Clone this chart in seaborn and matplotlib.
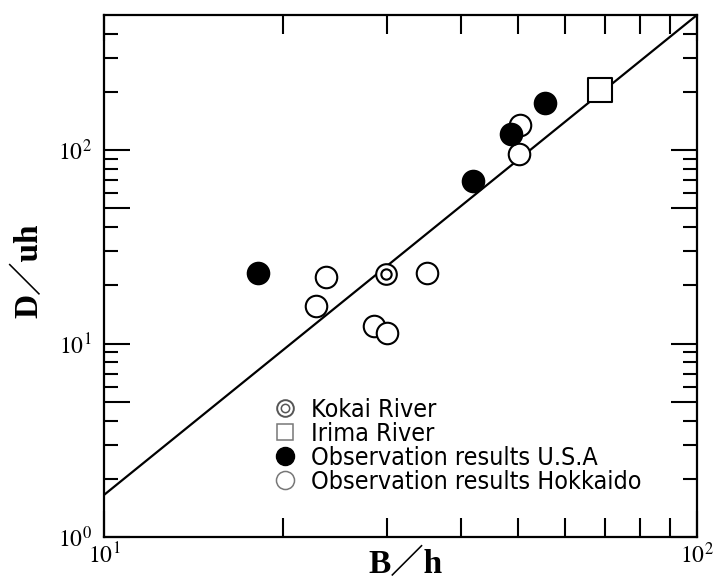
import numpy as np
import pandas as pd
import matplotlib
matplotlib.use("Agg")
import matplotlib.pyplot as plt
import seaborn as sns
from matplotlib.lines import Line2D
from matplotlib.legend_handler import HandlerTuple
from matplotlib.ticker import FixedLocator, FixedFormatter, NullFormatter

# ---- data ----
usa_x = [18.2, 41.9, 48.6, 55.4]
usa_y = [23.2, 69.2, 121.0, 175.0]

hok_x = [22.8, 23.7, 28.5, 30.0, 35.1, 50.3, 50.1]
hok_y = [15.6, 22.0, 12.3, 11.3, 23.3, 134.7, 95.3]

kokai_x = [29.9]
kokai_y = [22.8]

irima_x = [68.6]
irima_y = [204.0]

line_x = [10.0, 100.0]
line_y = [1.65, 500.0]

legend_labels = ["Kokai River", "Irima River",
                 "Observation results U.S.A", "Observation results Hokkaido"]

x_label = "B／h"
y_label = "D／uh"

x_major = [10, 100]
x_major_labels = ["$10^{1}$", "$10^{2}$"]
x_minor = [20, 30, 40, 50, 60, 70, 80, 90]
y_major = [1, 5, 10, 50, 100]
y_major_labels = ["$10^{0}$", "", "$10^{1}$", "", "$10^{2}$"]
y_minor = [2, 3, 4, 6, 7, 8, 9, 20, 30, 40, 60, 70, 80, 90, 200, 300, 400]

# ---- style ----
sns.set_theme(style="ticks")
plt.rcParams["font.family"] = ["Liberation Serif", "DejaVu Serif"]
plt.rcParams["mathtext.fontset"] = "stix"

W, H = 725, 587
fig = plt.figure(figsize=(W / 100, H / 100), dpi=100)
fig.patch.set_facecolor("white")
ax = fig.add_axes([104 / W, 50 / H, 593 / W, 522 / H])
ax.set_facecolor("white")
ax.set_xscale("log")
ax.set_yscale("log")

sns.lineplot(x=line_x, y=line_y, ax=ax, color="black", linewidth=1.6, zorder=2)

sns.scatterplot(x=hok_x, y=hok_y, ax=ax, marker="o", s=240, color="white",
                edgecolor="black", linewidth=1.5, zorder=3)
sns.scatterplot(x=usa_x, y=usa_y, ax=ax, marker="o", s=240, color="black",
                edgecolor="black", linewidth=1.5, zorder=4)
sns.scatterplot(x=kokai_x, y=kokai_y, ax=ax, marker="o", s=220, color="white",
                edgecolor="black", linewidth=1.5, zorder=4)
sns.scatterplot(x=kokai_x, y=kokai_y, ax=ax, marker="o", s=55, color="white",
                edgecolor="black", linewidth=1.5, zorder=5)
sns.scatterplot(x=irima_x, y=irima_y, ax=ax, marker="s", s=300, color="white",
                edgecolor="black", linewidth=1.5, zorder=4)

ax.set_xlim(10, 100)
ax.set_ylim(1, 500)

for sp in ax.spines.values():
    sp.set_visible(True)
    sp.set_linewidth(1.6)
    sp.set_color("black")

ax.xaxis.set_major_locator(FixedLocator(x_major))
ax.xaxis.set_major_formatter(FixedFormatter(x_major_labels))
ax.xaxis.set_minor_locator(FixedLocator(x_minor))
ax.xaxis.set_minor_formatter(NullFormatter())
ax.yaxis.set_major_locator(FixedLocator(y_major))
ax.yaxis.set_major_formatter(FixedFormatter(y_major_labels))
ax.yaxis.set_minor_locator(FixedLocator(y_minor))
ax.yaxis.set_minor_formatter(NullFormatter())

ax.tick_params(which="both", direction="in", top=True, right=True,
               color="black", width=1.5, labelsize=17, labelcolor="black")
ax.tick_params(axis="x", which="major", length=19, pad=4)
ax.tick_params(axis="x", which="minor", length=14)
ax.tick_params(axis="y", which="major", length=19, pad=9)
ax.tick_params(axis="y", which="minor", length=10)

lab_font = dict(family=["Liberation Serif", "Noto Sans CJK JP"],
                weight="bold", size=24, color="black")
ax.set_xlabel(x_label, **lab_font)
ax.set_ylabel(y_label, **lab_font)
ax.xaxis.set_label_coords(0.508, -0.022)
ax.yaxis.set_label_coords(-0.100, 0.51)

# ---- legend ----
h_kokai = (Line2D([], [], ls="none", marker="o", ms=12, mfc="white", mec="#555555", mew=1.4),
           Line2D([], [], ls="none", marker="o", ms=6, mfc="white", mec="#555555", mew=1.1))
h_irima = Line2D([], [], ls="none", marker="s", ms=11, mfc="white", mec="#777777", mew=1.1)
h_usa = Line2D([], [], ls="none", marker="o", ms=13, mfc="black", mec="black", mew=1.0)
h_hok = Line2D([], [], ls="none", marker="o", ms=13, mfc="white", mec="#777777", mew=1.1)

leg = fig.legend([h_kokai, h_irima, h_usa, h_hok], legend_labels,
                 handler_map={tuple: HandlerTuple(ndivide=1)},
                 loc="upper left", bbox_to_anchor=(272 / W, 1 - 398 / H),
                 frameon=False, borderpad=0, borderaxespad=0,
                 handlelength=1.0, handletextpad=0.55, labelspacing=0.0,
                 prop=dict(family=["Liberation Sans Narrow", "DejaVu Sans"],
                           stretch="condensed", size=18))
for t in leg.get_texts():
    t.set_color("black")

fig.savefig("out.png", dpi=100, facecolor="white")
